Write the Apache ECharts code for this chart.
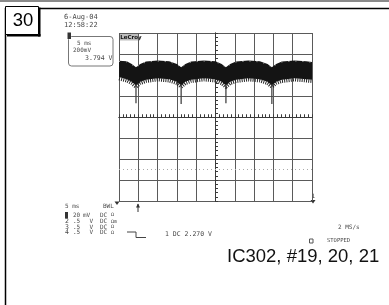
<!DOCTYPE html>
<html><head><meta charset="utf-8">
<script src="https://cdn.jsdelivr.net/npm/echarts/dist/echarts.min.js"></script>
<style>html,body{margin:0;padding:0;background:#fff}#c{width:389px;height:305px}</style>
</head><body><div id="c"></div>
<script>
// time in ms relative to screen centre (5 ms/div), voltage in mV (20 mV/div)
const timeMs  = [-25,-23,-21.7,-20.6,-19.5,-18,-15,-12,-10,-8.9,-7.8,-6.3,-3,0,1.6,2.7,3.8,5.3,8.5,11.5,13.5,14.6,15.7,17.2,20.5,23.5,25];
const upperMv = [53.5,53,50.5,47.5,50.5,52.8,53.8,53,50.5,47.5,50.5,52.8,53.8,53,50.5,47.5,50.5,52.8,53.8,53,50.5,47.5,50.5,52.8,53.8,53.2,52.5];
const lowerMv = [38,36,33.5,30,33.5,35.5,37,36,33.5,30,33.5,35.5,37,36,33.5,30,33.5,35.5,37,36,33.5,30,33.5,35.5,37,36,35.5];
const spikeTimes = [-20.6,-8.9,2.7,14.6];
const spikeTopMv = [31,31,31,31];
const spikeBottomMv = [13,12.5,13,12.5];
const refLevelMv = -50;
const xMin = -25, xMax = 25, xStep = 5;
const yMin = -80, yMax = 80, yStep = 20;

const chart = echarts.init(document.getElementById('c'), null, {renderer:'canvas'});
const gridCol = '#5a5a5a', axCol = '#3a3a3a', txt = '#4a4a4a';
const mono = '"DejaVu Sans Mono", monospace';
const sans = '"DejaVu Sans", sans-serif';
function axisX(pos, inside, split){
  return {type:'value', min:xMin, max:xMax, interval:xStep, position:pos,
    axisLine:{show:true, onZero:true, lineStyle:{color:axCol}},
    axisTick:{show:true, inside:inside, length:2.5, lineStyle:{color:axCol}},
    minorTick:{show:true, splitNumber:5, length:2.5, lineStyle:{color:axCol}},
    splitLine:{show:split, lineStyle:{color:gridCol, width:1}},
    axisLabel:{show:false}};
}
function axisY(pos, inside, split){
  return {type:'value', min:yMin, max:yMax, interval:yStep, position:pos,
    axisLine:{show:true, onZero:true, lineStyle:{color:axCol}},
    axisTick:{show:true, inside:inside, length:2.5, lineStyle:{color:axCol}},
    minorTick:{show:true, splitNumber:5, length:2.5, lineStyle:{color:axCol}},
    splitLine:{show:split, lineStyle:{color:gridCol, width:1}},
    axisLabel:{show:false}};
}
function t(x,y,s,size,opt){
  return Object.assign({type:'text', x:x, y:y, style:{text:s, fill:txt, font:(size||6)+'px '+mono, textVerticalAlign:'middle'}}, opt||{});
}
const option = {
  animation:false,
  grid:{left:119, top:33, width:193, height:168},
  xAxis:[axisX('bottom', true, true), axisX('top', false, false)],
  yAxis:[axisY('left', true, true), axisY('right', false, false)],
  series:[
    {type:'custom', coordinateSystem:'cartesian2d', xAxisIndex:0, yAxisIndex:0,
     data:[[0,0]], silent:true,
     renderItem:function(params, api){
       const pts=[];
       for(let i=0;i<timeMs.length;i++) pts.push(api.coord([timeMs[i], upperMv[i]]));
       for(let i=timeMs.length-1;i>=0;i--) pts.push(api.coord([timeMs[i], lowerMv[i]]));
       const low = timeMs.map((tt,i)=>{const p=api.coord([tt,lowerMv[i]]); return [p[0], p[1]+1.5];});
       const up = timeMs.map((tt,i)=>{const p=api.coord([tt,upperMv[i]]); return [p[0], p[1]+0.5];});
       return {type:'group', children:[
         {type:'polygon', shape:{points:pts}, style:{fill:'#141414'}},
         {type:'polyline', shape:{points:low}, style:{stroke:'#222', lineWidth:3.5, lineDash:[1,1.2], fill:null}},
         {type:'polyline', shape:{points:up}, style:{stroke:'#bbb', lineWidth:1, lineDash:[1,6], fill:null}}
       ]};
     },
     markLine:{silent:true, symbol:'none', label:{show:false},
       lineStyle:{color:'#aaa', type:[1,3], width:1},
       data:[{yAxis:refLevelMv}]}
    },
    {type:'custom', coordinateSystem:'cartesian2d', xAxisIndex:0, yAxisIndex:0, silent:true,
     data: spikeTimes.map((tt,i)=>[tt, spikeTopMv[i], spikeBottomMv[i]]),
     encode:{x:0, y:[1,2]},
     renderItem:function(params, api){
       const a = api.coord([api.value(0), api.value(1)]);
       const b = api.coord([api.value(0), api.value(2)]);
       return {type:'line', shape:{x1:a[0], y1:a[1], x2:b[0], y2:b[1]}, style:{stroke:'#444', lineWidth:1.3}};
     }}
  ],
  graphic:[
    {type:'rect', shape:{x:0,y:0,width:389,height:2}, style:{fill:'#8a8a8a'}},
    {type:'line', shape:{x1:39,y1:8.5,x2:389,y2:8.5}, style:{stroke:'#000', lineWidth:1.5}},
    {type:'line', shape:{x1:5.5,y1:8,x2:5.5,y2:305}, style:{stroke:'#000', lineWidth:1.5}},
    {type:'rect', shape:{x:38,y:7.5,width:2.5,height:29}, style:{fill:'#000'}},
    {type:'rect', shape:{x:7,y:34,width:33.5,height:2.5}, style:{fill:'#000'}},
    {type:'rect', shape:{x:5.5,y:6.5,width:33,height:28}, style:{fill:'#fff', stroke:'#000', lineWidth:1}},
    {type:'text', x:23, y:20.5, style:{text:'30', fill:'#000', font:'18.5px "Liberation Sans", Arial, sans-serif', textAlign:'center', textVerticalAlign:'middle'}},
    t(64,17,'6-Aug-04',7),
    t(64,25,'12:58:22',7),
    {type:'rect', shape:{x:68.5,y:36.5,width:44.5,height:29.5,r:3}, style:{fill:null, stroke:'#777', lineWidth:1}},
    {type:'rect', shape:{x:67.5,y:32.5,width:3.5,height:6.5}, style:{fill:'#333'}},
    t(77,43,'5 ms',6),
    t(73,50,'200mV',6),
    t(112.5,58,'3.794 V',6.5,{style:{text:'3.794 V', fill:txt, font:'6.5px '+mono, textAlign:'right', textVerticalAlign:'middle'}}),
    {type:'rect', shape:{x:119.5,y:33.5,width:19,height:7}, style:{fill:'#bdbdbd'}},
    {type:'text', x:120.3, y:37.2, style:{text:'LeCroy', fill:'#111', font:'bold 5.5px '+sans, textVerticalAlign:'middle'}},
    {type:'polygon', shape:{points:[[114.5,201.5],[119.5,201.5],[117,205]]}, style:{fill:'#333'}},
    {type:'line', shape:{x1:138,y1:204,x2:138,y2:212}, style:{stroke:'#333', lineWidth:1}},
    {type:'polygon', shape:{points:[[136,207.5],[140,207.5],[138,203.5]]}, style:{fill:'#333'}},
    t(311.5,196,'1',6),
    {type:'polygon', shape:{points:[[310.5,200],[315.5,200],[313,203.5]]}, style:{fill:'#333'}},
    t(65,206,'5 ms',6),
    t(103,206,'BWL',6),
    {type:'rect', shape:{x:65,y:212,width:3,height:6.5}, style:{fill:'#333'}},
    t(65,221.5,'2',6.5), t(65,227,'3',6.5), t(65,232.7,'4',6.5),
    t(73,215,'20',6), t(73,221.5,'.5',6), t(73,227,'.5',6), t(73,232.7,'.5',6),
    t(83,215,'mV',6), t(89.5,221.5,'V',6), t(89.5,227,'V',6), t(89.5,232.7,'V',6),
    t(100,215,'DC',6), t(100,221.5,'DC',6), t(100,227,'DC',6), t(100,232.7,'DC',6),
    t(111,215,'Ω',5), t(111,221.5,'Ωm',5), t(111,227,'Ω',5), t(111,232.7,'Ω',5),
    {type:'polyline', shape:{points:[[127,232],[136,232],[136,237.5],[146,237.5]]}, style:{stroke:'#444', lineWidth:1, fill:null}},
    t(165,234,'1 DC 2.270 V',6.5),
    t(338,227,'2 MS/s',6),
    {type:'rect', shape:{x:309.5,y:239,width:3.5,height:4}, style:{fill:null, stroke:'#555', lineWidth:1}},
    t(327,241,'STOPPED',5.5),
    {type:'text', x:227, y:257, style:{text:'IC302, #19, 20, 21', fill:'#111', font:'18.5px "Liberation Sans", Arial, sans-serif', textVerticalAlign:'middle'}}
  ]
};
chart.setOption(option);
</script>
</body></html>
